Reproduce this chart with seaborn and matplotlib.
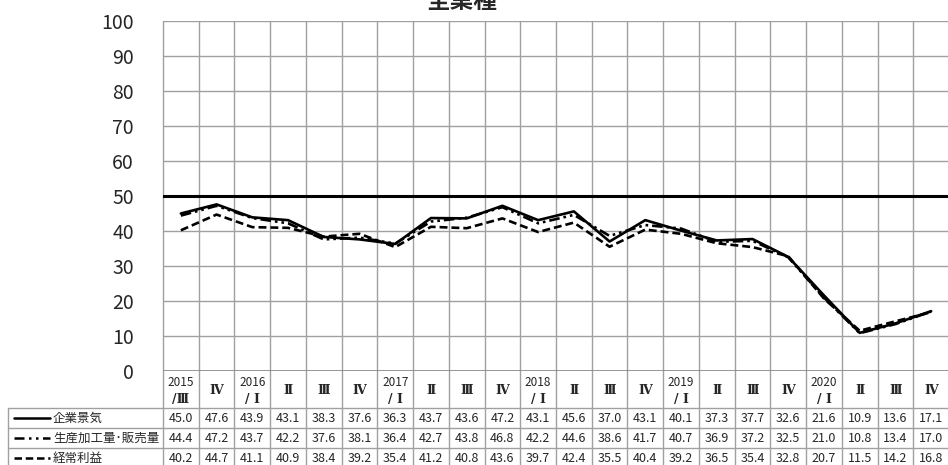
import numpy as np
import pandas as pd
import seaborn as sns
import matplotlib.pyplot as plt
from matplotlib.lines import Line2D
from matplotlib.transforms import blended_transform_factory

# ================================
# Data (read from the reference table)
# ================================

quarters = ["2015\n/Ⅲ", "Ⅳ", "2016\n/ Ⅰ", "Ⅱ", "Ⅲ", "Ⅳ",
            "2017\n/ Ⅰ", "Ⅱ", "Ⅲ", "Ⅳ",
            "2018\n/ Ⅰ", "Ⅱ", "Ⅲ", "Ⅳ",
            "2019\n/ Ⅰ", "Ⅱ", "Ⅲ", "Ⅳ",
            "2020\n/ Ⅰ", "Ⅱ", "Ⅲ", "Ⅳ"]

kigyo_keiki = [45.0, 47.6, 43.9, 43.1, 38.3, 37.6, 36.3, 43.7, 43.6, 47.2, 43.1,
               45.6, 37.0, 43.1, 40.1, 37.3, 37.7, 32.6, 21.6, 10.9, 13.6, 17.1]
seisan_hanbai = [44.4, 47.2, 43.7, 42.2, 37.6, 38.1, 36.4, 42.7, 43.8, 46.8, 42.2,
                 44.6, 38.6, 41.7, 40.7, 36.9, 37.2, 32.5, 21.0, 10.8, 13.4, 17.0]
keijo_rieki = [40.2, 44.7, 41.1, 40.9, 38.4, 39.2, 35.4, 41.2, 40.8, 43.6, 39.7,
               42.4, 35.5, 40.4, 39.2, 36.5, 35.4, 32.8, 20.7, 11.5, 14.2, 16.8]

series_names = ["企業景気", "生産加工量･販売量", "経常利益"]
series_values = [kigyo_keiki, seisan_hanbai, keijo_rieki]
baseline = 50
title = "全業種"

# long format for seaborn
rows = []
for name, vals in zip(series_names, series_values):
    for i, v in enumerate(vals):
        rows.append({"pos": i, "value": v, "series": name})
df = pd.DataFrame(rows)

# ================================
# Style
# ================================

sns.set_style("white")
plt.rcParams['font.family'] = ['Noto Sans CJK JP', 'DejaVu Sans']

W, H = 948, 465
GRID = "#a0a0a0"
NUMERAL_FONT = ['DejaVu Serif', 'Noto Sans CJK JP']


def px(x):
    return x / W


def py(y):
    return 1 - y / H


fig = plt.figure(figsize=(W / 100, H / 100), dpi=100)
ax = fig.add_axes([px(163), py(371), 786 / W, 350 / H])

dash_styles = {
    "企業景気": "",
    "生産加工量･販売量": (4, 1.5, 1, 1.5, 1, 1.5),
    "経常利益": (3, 1.5),
}

sns.lineplot(
    data=df, x="pos", y="value",
    hue="series", style="series",
    hue_order=series_names, style_order=series_names,
    palette={n: "black" for n in series_names},
    dashes=dash_styles,
    linewidth=1.9,
    legend=False,
    ax=ax,
    zorder=3,
)

ax.axhline(baseline, color="black", lw=2.2, zorder=4)

n = len(quarters)
ax.set_xlim(-0.5, n - 0.5)
ax.set_ylim(0, 100)
ax.set_yticks(range(0, 101, 10))
ax.set_xticks([])
ax.set_xlabel("")
ax.set_ylabel("")
ax.tick_params(axis="y", length=0, pad=21, labelsize=14)
ax.yaxis.grid(True, color=GRID, lw=1.0)
ax.set_axisbelow(True)
for s in ax.spines.values():
    s.set_visible(False)
ax.axhline(0, color="#868686", lw=1.2, zorder=2)

# ================================
# Data table under the plot
# ================================

trans = blended_transform_factory(ax.transData, fig.transFigure)
row_edges = [408, 428, 448, 468]

# vertical lines at category boundaries, through plot and table
for k in range(n + 1):
    ax.add_line(Line2D([k - 0.5, k - 0.5], [py(row_edges[-1]), py(21)],
                       transform=trans, color=GRID, lw=1.0,
                       clip_on=False, zorder=1))

# horizontal table lines
for y in row_edges:
    fig.add_artist(Line2D([px(8), 1], [py(y), py(y)], color=GRID, lw=1.0))
fig.add_artist(Line2D([px(8), px(8)], [py(row_edges[0]), py(row_edges[-1])],
                      color=GRID, lw=1.0))

# header row: year on top line, roman numeral below
for i, q in enumerate(quarters):
    if "\n" in q:
        year, quarter = q.split("\n")
        ax.text(i, py(383), year, transform=trans, ha="center", va="center",
                fontsize=8.5)
        ax.text(i, py(399), quarter, transform=trans, ha="center",
                va="center", fontsize=9, fontweight="bold",
                family=NUMERAL_FONT)
    else:
        ax.text(i, py(390), q, transform=trans, ha="center", va="center",
                fontsize=9, fontweight="bold", family=NUMERAL_FONT)

# value rows with legend keys
key_styles = ["-", (0, (4, 1.8, 1, 1.8, 1, 1.8)), (0, (3, 1.5))]
for r, (name, vals) in enumerate(zip(series_names, series_values)):
    yc = (row_edges[r] + row_edges[r + 1]) / 2
    fig.add_artist(Line2D([px(14), px(50)], [py(yc), py(yc)], color="black",
                          lw=1.8, linestyle=key_styles[r]))
    fig.text(px(53), py(yc), name, ha="left", va="center", fontsize=9)
    for i, v in enumerate(vals):
        ax.text(i, py(yc), f"{v:.1f}", transform=trans, ha="center",
                va="center", fontsize=9)

# title, partly cut off at the top edge as in the reference
fig.text(px(462), py(8), title, ha="center", va="baseline",
         fontsize=17, fontweight="bold")

fig.savefig("out.png", dpi=100)
